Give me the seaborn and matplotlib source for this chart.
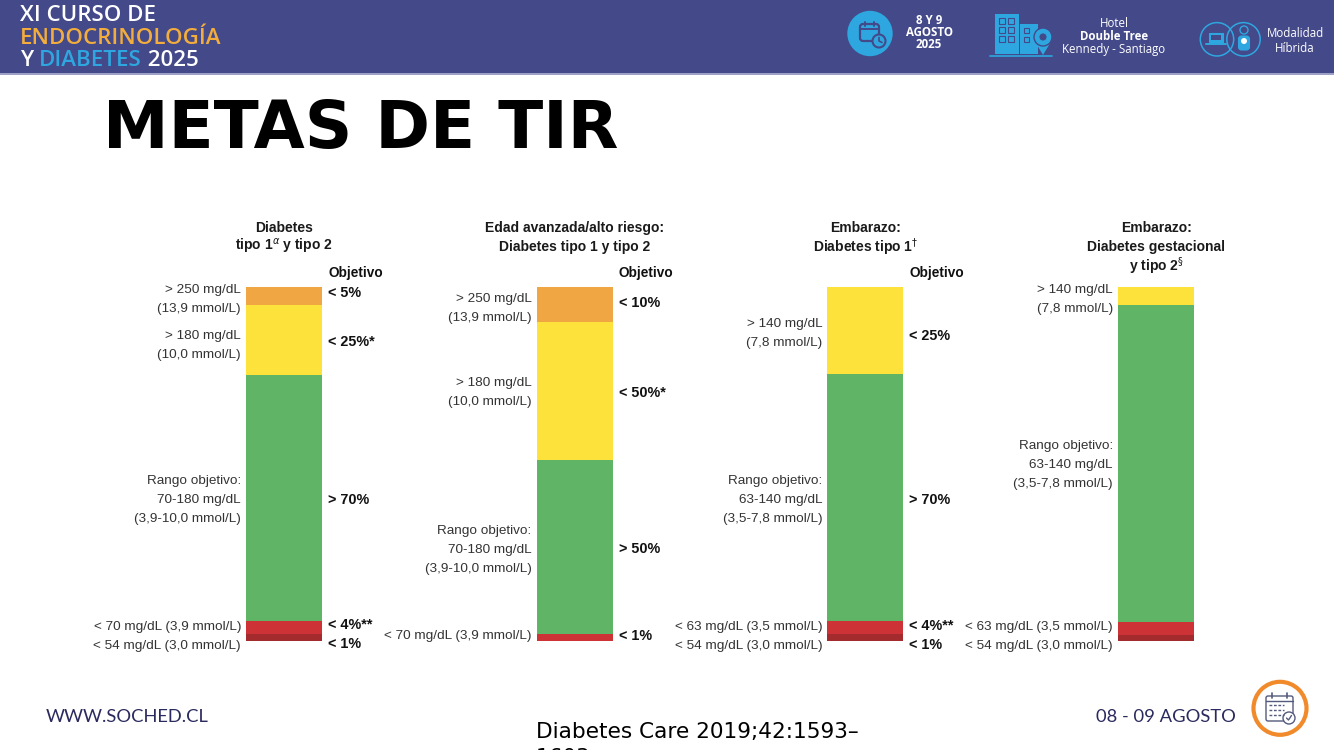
import matplotlib
matplotlib.use("Agg")
import matplotlib.pyplot as plt
import numpy as np
import pandas as pd
import seaborn as sns
from matplotlib import font_manager as fm
from matplotlib.patches import Rectangle, Circle, FancyBboxPatch, Polygon

# ---------------- data ----------------
categories = ["Diabetes tipo 1 y tipo 2", "Edad avanzada/alto riesgo",
              "Embarazo: Diabetes tipo 1", "Embarazo: Diabetes gestacional y tipo 2"]
very_low = [2.1, 0.0, 2.1, 1.6]      # < 54 mg/dL
low = [3.5, 2.1, 3.6, 3.8]           # < 70 / < 63 mg/dL
in_range = [69.6, 49.1, 69.6, 89.5]  # rango objetivo
high = [19.8, 39.0, 24.7, 5.1]       # > 180 / > 140 mg/dL
very_high = [5.0, 9.8, 0.0, 0.0]     # > 250 mg/dL

panel_titles = [
    ["Diabetes", r"tipo 1$^{\alpha}$ y tipo 2"],
    ["Edad avanzada/alto riesgo:", "Diabetes tipo 1 y tipo 2"],
    ["Embarazo:", r"Diabetes tipo 1$^{\dagger}$"],
    ["Embarazo:", "Diabetes gestacional", r"y tipo 2$^{§}$"],
]
range_labels = [
    ["> 250 mg/dL\n(13,9 mmol/L)", "> 180 mg/dL\n(10,0 mmol/L)",
     "Rango objetivo:\n70-180 mg/dL\n(3,9-10,0 mmol/L)",
     "< 70 mg/dL (3,9 mmol/L)\n< 54 mg/dL (3,0 mmol/L)"],
    ["> 250 mg/dL\n(13,9 mmol/L)", "> 180 mg/dL\n(10,0 mmol/L)",
     "Rango objetivo:\n70-180 mg/dL\n(3,9-10,0 mmol/L)",
     "< 70 mg/dL (3,9 mmol/L)"],
    ["> 140 mg/dL\n(7,8 mmol/L)",
     "Rango objetivo:\n63-140 mg/dL\n(3,5-7,8 mmol/L)",
     "< 63 mg/dL (3,5 mmol/L)\n< 54 mg/dL (3,0 mmol/L)"],
    ["> 140 mg/dL\n(7,8 mmol/L)",
     "Rango objetivo:\n63-140 mg/dL\n(3,5-7,8 mmol/L)",
     "< 63 mg/dL (3,5 mmol/L)\n< 54 mg/dL (3,0 mmol/L)"],
]
target_labels = [
    ["< 5%", "< 25%*", "> 70%", "< 4%**\n< 1%"],
    ["< 10%", "< 50%*", "> 50%", "< 1%"],
    ["< 25%", "> 70%", "< 4%**\n< 1%"],
    [],
]
target_header = ["Objetivo", "Objetivo", "Objetivo", None]

# ---------------- layout (label heights in bar-percent units) ----------------
range_y = [[96.5, 83.5, 39.8, 1.3], [93.9, 70.1, 25.7, 1.4],
           [87.0, 39.8, 1.3], [96.5, 49.7, 1.3]]
target_y = [[98.3, 84.5, 39.8, 1.7], [95.6, 70.1, 26.0, 1.4],
            [86.2, 39.8, 1.5], []]
TITLE_Y = 116.7
HEADER_Y = 103.9
LINE = 5.37
BAR_W = 0.262
PAD = 5

COLORS = {"very_low": "#A32B2D", "low": "#CD3236", "in_range": "#60B466",
          "high": "#FDE23B", "very_high": "#F0A643"}

def pick(*names):
    for n in names:
        try:
            fm.findfont(fm.FontProperties(family=n), fallback_to_default=False)
            return n
        except Exception:
            pass
    return "DejaVu Sans"

sns.set_theme(style="white")
LAB = pick("Liberation Sans", "Arial", "DejaVu Sans")
HEAD = pick("Open Sans", "Lato", "DejaVu Sans")
FOOT = pick("Lato", "Open Sans", "DejaVu Sans")
plt.rcParams["font.family"] = [LAB, "DejaVu Sans"]

fig = plt.figure(figsize=(13.34, 7.5), dpi=100)
fig.patch.set_facecolor("white")

# decoration layer in pixel coordinates
deco = fig.add_axes([0, 0, 1, 1], zorder=0)
deco.set_xlim(0, 1334)
deco.set_ylim(750, 0)
deco.axis("off")

NAVY = "#434989"
LBLUE = "#2EA7E0"
deco.add_patch(Rectangle((0, 0), 1334, 72.5, color=NAVY, lw=0))
deco.add_patch(Rectangle((0, 72.5), 1334, 2.5, color="#9DA1C6", lw=0))

# logo text
LOGO_FS = 16
lk = dict(family=[HEAD, "DejaVu Sans"], fontweight="semibold", fontsize=LOGO_FS, va="baseline", ha="left")
deco.text(20, 21, "XI CURSO DE", color="white", **lk)
deco.text(20, 44, "ENDOCRINOLOGÍA", color="#F3AD3C", **lk)
t1 = deco.text(20, 66.5, "Y ", color="white", **lk)
t2 = deco.annotate("DIABETES", xy=(1, 0), xycoords=t1, va="bottom", ha="left",
                   color=LBLUE, family=[HEAD, "DejaVu Sans"], fontweight="semibold", fontsize=LOGO_FS)
deco.annotate(" 2025", xy=(1, 0), xycoords=t2, va="bottom", ha="left",
              color="white", family=[HEAD, "DejaVu Sans"], fontweight="semibold", fontsize=LOGO_FS)

# calendar icon
deco.add_patch(Circle((870, 33.5), 22.7, color=LBLUE, lw=0))
deco.add_patch(FancyBboxPatch((860, 24), 19, 17, boxstyle="round,pad=0,rounding_size=3",
                              fc="none", ec=NAVY, lw=1.6))
deco.plot([860, 879], [29, 29], color=NAVY, lw=1.4)
deco.plot([865, 865], [21.5, 26], color=NAVY, lw=1.4)
deco.plot([874, 874], [21.5, 26], color=NAVY, lw=1.4)
deco.add_patch(Circle((879, 41), 6.5, fc=LBLUE, ec=NAVY, lw=1.5))
deco.plot([879, 879, 882], [37.5, 41, 42.5], color=NAVY, lw=1.2)
hk = dict(family=[HEAD, "DejaVu Sans"], color="white", ha="center", va="center")
deco.text(929, 20.5, "8 Y 9", fontweight="bold", fontsize=8.3, **hk)
deco.text(929, 32.5, "AGOSTO", fontweight="bold", fontsize=8.3, **hk)
deco.text(929, 45, "2025", fontweight="bold", fontsize=8.3, **hk)

# building icon
deco.add_patch(Rectangle((995, 14), 24, 40, color=LBLUE, lw=0))
deco.add_patch(Rectangle((1020, 24), 18, 30, color=LBLUE, lw=0))
for wx in (999, 1008):
    for wy in (18, 27, 36):
        deco.add_patch(Rectangle((wx, wy), 6, 6, fc="none", ec=NAVY, lw=0.8))
for wy in (28, 37):
    deco.add_patch(Rectangle((1024, wy), 5, 5, fc="none", ec=NAVY, lw=0.8))
deco.add_patch(Polygon([[1034, 40], [1052, 40], [1043, 55]], closed=True, color=LBLUE, lw=0))
deco.add_patch(Circle((1043, 37), 9, fc=LBLUE, ec=NAVY, lw=1.0))
deco.add_patch(Circle((1043, 37), 4, fc=NAVY, ec=LBLUE, lw=0.6))
deco.plot([990, 1052], [55.5, 55.5], color=LBLUE, lw=1.2)
deco.text(1114, 23.5, "Hotel", fontsize=8.3, **hk)
deco.text(1114, 36.8, "Double Tree", fontweight="bold", fontsize=8.3, **hk)
deco.text(1114, 50, "Kennedy - Santiago", fontsize=8.3, **hk)

# hybrid icon
deco.add_patch(Circle((1217, 39.3), 16.7, fc="none", ec=LBLUE, lw=1.1))
deco.add_patch(Circle((1243.5, 39.3), 16.7, fc="none", ec=LBLUE, lw=1.1))
deco.add_patch(Rectangle((1209, 33), 14, 9, fc=LBLUE, ec=LBLUE, lw=0.8))
deco.add_patch(Rectangle((1211, 35), 10, 5, fc=NAVY, lw=0))
deco.plot([1206, 1226], [43.5, 43.5], color=LBLUE, lw=1.4)
deco.add_patch(Circle((1244, 30), 4, fc="none", ec=LBLUE, lw=1.0))
deco.add_patch(FancyBboxPatch((1238.5, 36), 11, 14, boxstyle="round,pad=0,rounding_size=3",
                              fc=LBLUE, ec=LBLUE, lw=0.8))
deco.add_patch(Circle((1244, 41), 3, fc="white", lw=0))
deco.text(1295, 33.5, "Modalidad", fontsize=8.3, **hk)
deco.text(1295, 48.5, "Híbrida", fontsize=8.3, **hk)

# slide title
deco.text(103, 148, "METAS DE TIR", family="DejaVu Sans", fontweight="bold",
          fontsize=47.5, color="black", ha="left", va="baseline")

# footer
fk = dict(family=[FOOT, "DejaVu Sans"], fontsize=13.2, color="#2B2A5F", va="baseline")
deco.text(46, 721.7, "WWW.SOCHED.CL", ha="left", **fk)
deco.text(1236, 721.7, "08 - 09 AGOSTO", ha="right", **fk)
deco.add_patch(Circle((1280, 708.3), 26.5, fc="white", ec="#F08A2A", lw=3.0))
GR = "#545A7C"
deco.add_patch(FancyBboxPatch((1266, 696), 27, 25, boxstyle="round,pad=0,rounding_size=2",
                              fc="none", ec=GR, lw=1.0))
deco.plot([1266, 1293], [701, 701], color=GR, lw=1.0)
deco.plot([1272, 1272], [692.5, 698], color=GR, lw=1.2)
deco.plot([1287, 1287], [692.5, 698], color=GR, lw=1.2)
for ry in (705, 710, 715):
    deco.plot([1269, 1284], [ry, ry], color=GR, lw=1.0, ls=(0, (2, 1.2)))
deco.add_patch(Circle((1289, 718), 6, fc="white", ec=GR, lw=1.0))
deco.plot([1286.5, 1288.5, 1291.5], [718, 720, 715.5], color=GR, lw=1.0)

deco.text(536, 738.5, "Diabetes Care 2019;42:1593–", family="DejaVu Sans",
          fontsize=15.6, color="black", ha="left", va="baseline")
deco.text(536, 764, "1603", family="DejaVu Sans",
          fontsize=15.6, color="black", ha="left", va="baseline")

# ---------------- chart ----------------
ax = fig.add_axes([0, 109 / 750, 1, 354 / 750], zorder=1)
df = pd.DataFrame({"categoria": categories, "very_low": very_low, "low": low,
                   "in_range": in_range, "high": high, "very_high": very_high})
layers = ["very_low", "low", "in_range", "high", "very_high"]
cum = df[layers].cumsum(axis=1)
for layer in reversed(layers):
    sns.barplot(data=df.assign(top=cum[layer]), x="categoria", y="top", order=categories,
                color=COLORS[layer], saturation=1, width=BAR_W, linewidth=0,
                errorbar=None, ax=ax)
ax.set_xlim(-0.9775, 3.6122)
ax.set_ylim(0, 100)
ax.axis("off")


def put_block(i, yc, text, side, **kw):
    lines = text.split("\n")
    n = len(lines)
    for k, line in enumerate(lines):
        y = yc + ((n - 1) / 2 - k) * LINE
        if side == "left":
            xy, off, ha = (i - BAR_W / 2, y), (-PAD, 0), "right"
        else:
            xy, off, ha = (i + BAR_W / 2, y), (PAD + 1, 0), "left"
        ax.annotate(line, xy=xy, xytext=off, textcoords="offset pixels", ha=ha,
                    va="center", annotation_clip=False, **kw)


lab_kw = dict(fontsize=9.7, color="#333333", family=[LAB, "DejaVu Sans"])
tgt_kw = dict(fontsize=10.4, color="#111111", fontweight="bold", family=[LAB, "DejaVu Sans"])
ttl_kw = dict(fontsize=10, color="#1a1a1a", fontweight="bold", family=[LAB, "DejaVu Sans"])

for i in range(len(categories)):
    for k, line in enumerate(panel_titles[i]):
        ax.text(i, TITLE_Y - k * LINE, line, ha="center", va="center", **ttl_kw)
    if target_header[i]:
        put_block(i, HEADER_Y, target_header[i], "right",
                  **{**tgt_kw, "fontsize": 9.8})
    for txt, yc in zip(range_labels[i], range_y[i]):
        put_block(i, yc, txt, "left", **lab_kw)
    for txt, yc in zip(target_labels[i], target_y[i]):
        put_block(i, yc, txt, "right", **tgt_kw)

fig.savefig("out.png", dpi=100, facecolor="white")
